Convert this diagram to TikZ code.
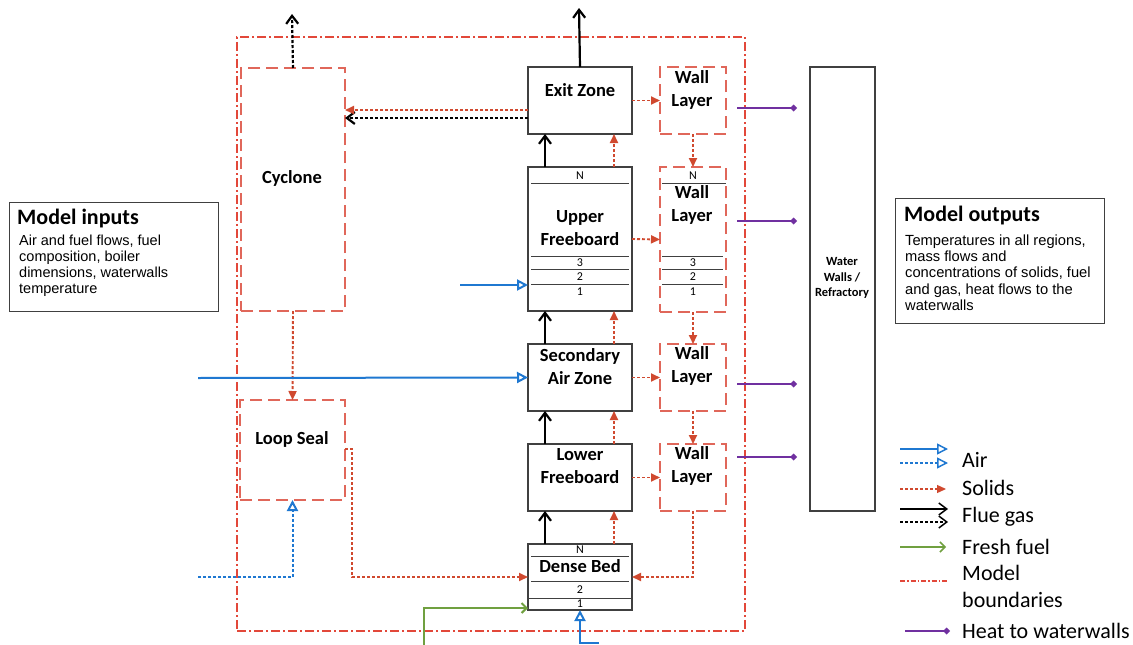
\documentclass[tikz,border=0pt]{standalone}
\usepackage{fontspec}
\setmainfont{Carlito}
\newfontfamily\arialf{Liberation Sans}
\usetikzlibrary{arrows.meta}
\definecolor{boxgray}{HTML}{404040}
\definecolor{dashred}{HTML}{E0675A}
\definecolor{boundred}{HTML}{E2483A}
\definecolor{sred}{HTML}{D0492F}
\definecolor{airblue}{HTML}{1F78D1}
\definecolor{fuelgreen}{HTML}{70A040}
\definecolor{heatpurple}{HTML}{7030A0}
\begin{document}
\begin{tikzpicture}[x=1pt,y=-1pt,
  zone/.style={draw=boxgray, line width=1.2pt, inner sep=0pt, outer sep=0pt, rectangle},
  dbox/.style={draw=dashred, line width=1.2pt, dash pattern=on 12pt off 6pt, inner sep=0pt, outer sep=0pt, rectangle},
  bound/.style={draw=boundred, line width=1.2pt, dash pattern=on 9pt off 3pt on 2pt off 3pt, inner sep=0pt, outer sep=0pt, rectangle},
  lbl/.style={font=\fontsize{18.5}{22.5}\selectfont\bfseries, align=center, inner sep=0pt},
  num/.style={font=\fontsize{12}{14}\selectfont, inner sep=0pt},
  sepline/.style={draw=boxgray, line width=1pt},
  solids/.style={draw=sred, line width=1.9pt, dash pattern=on 3pt off 2pt, -{Triangle[length=9pt,width=8pt]}},
  air/.style={draw=airblue, line width=2pt, -{Triangle[open,length=11pt,width=11pt]}},
  airdot/.style={air, dash pattern=on 3pt off 2pt},
  flue/.style={draw=black, line width=2.2pt, -{Straight Barb[length=8pt,width=12pt]}},
  fluedot/.style={flue, dash pattern=on 3pt off 2pt},
  fuel/.style={draw=fuelgreen, line width=2pt, -{Straight Barb[length=5pt,width=10pt]}},
  heat/.style={draw=heatpurple, line width=2.2pt, -{Diamond[length=7pt,width=7pt]}},
  legtext/.style={font=\fontsize{22}{27}\selectfont, anchor=west, inner sep=0pt, align=left},
  ]
\useasboundingbox (0,0) rectangle (1133,645);
\fill[white] (0,0) rectangle (1133,645);

% model boundary
\node[bound, minimum width=508pt, minimum height=594pt] (bd) at (491,334) {};

% dashed red boxes
\node[dbox, minimum width=104pt, minimum height=243pt] (cyc) at (293,189.5) {};
\node[dbox, minimum width=105pt, minimum height=100pt] (ls) at (292.5,450) {};
\node[dbox, minimum width=66pt, minimum height=67pt] (wl1) at (693,100.5) {};
\node[dbox, minimum width=66pt, minimum height=145pt] (wl2) at (693,239.5) {};
\node[dbox, minimum width=66pt, minimum height=67pt] (wl3) at (693,377.5) {};
\node[dbox, minimum width=66pt, minimum height=67pt] (wl4) at (693,477.5) {};

% zones
\node[zone, minimum width=104pt, minimum height=67pt] (ez) at (580,100.5) {};
\node[zone, minimum width=104pt, minimum height=144pt] (uf) at (580,239) {};
\node[zone, minimum width=104pt, minimum height=67pt] (saz) at (580,377.5) {};
\node[zone, minimum width=104pt, minimum height=67pt] (lf) at (580,477.5) {};
\node[zone, minimum width=104pt, minimum height=66pt] (db) at (580,577) {};
\node[zone, minimum width=65pt, minimum height=444pt] (ww) at (842.5,289) {};

% labels
\node[lbl] (cycl) at (292,178) {Cyclone};
\node[lbl] (lsl) at (292,439) {Loop Seal};
\node[lbl] (ezl) at (580,90) {Exit Zone};
\node[lbl] (ufl) at (580,228) {Upper\\Freeboard};
\node[lbl] (sazl) at (580,366.5) {Secondary\\Air Zone};
\node[lbl] (lfl) at (580,466) {Lower\\Freeboard};
\node[lbl] (dbl) at (580,566) {Dense Bed};
\node[lbl] (wl1l) at (692,90) {Wall\\Layer};
\node[lbl] (wl2l) at (692,205) {Wall\\Layer};
\node[lbl] (wl3l) at (692,366) {Wall\\Layer};
\node[lbl] (wl4l) at (692,466) {Wall\\Layer};
\node[font=\fontsize{12.5}{15.5}\selectfont\bfseries, align=center, inner sep=0pt] (wwl) at (842,278) {Water\\Walls /\\Refractory};

% upper freeboard layers
\draw[sepline] (531,183) -- (629,183);
\draw[sepline] (531,256) -- (629,256);
\draw[sepline] (531,269.5) -- (629,269.5);
\draw[sepline] (531,284) -- (629,284);
\node[num] (ufn) at (580,176) {N};
\node[num] (uf3) at (580,262.5) {3};
\node[num] (uf2) at (580,277) {2};
\node[num] (uf1) at (580,292) {1};
% wall layer 2 layers
\draw[sepline] (662,183) -- (726,183);
\draw[sepline] (662,256) -- (723,256);
\draw[sepline] (662,269.5) -- (723,269.5);
\draw[sepline] (662,284) -- (723,284);
\node[num] (wln) at (693,176) {N};
\node[num] (wl3n) at (693,262.5) {3};
\node[num] (wl2n) at (693,277) {2};
\node[num] (wl1n) at (693,292) {1};
% dense bed layers
\draw[sepline] (531,556) -- (629,556);
\draw[sepline] (531,581) -- (629,581);
\draw[sepline] (528,598) -- (633,598);
\node[num] (dbn) at (580,550) {N};
\node[num] (db2) at (580,589.5) {2};
\node[num] (db1) at (580,603.5) {1};

% lanes
\coordinate (gx) at (545,0);
\coordinate (sx) at (614,0);
\coordinate (ry) at (0,110);
\coordinate (ky) at (0,118);

% free ends
\coordinate (cyctop) at (292,14);
\coordinate (eztop) at (579,8);
\coordinate (a1) at (460,285);
\coordinate (a2) at (198,378);
\coordinate (a3) at (198,577);
\coordinate (a4) at (599,643);
\coordinate (f0) at (424,645);
\coordinate (lsx) at (352,449);

% flue gas
\draw[fluedot] (cyc.north) -- (cyctop);
\draw[flue] (ez.north) -- (eztop);
\draw[flue] (db.north -| gx) -- (lf.south -| gx);
\draw[flue] (lf.north -| gx) -- (saz.south -| gx);
\draw[flue] (saz.north -| gx) -- (uf.south -| gx);
\draw[flue] (uf.north -| gx) -- (ez.south -| gx);
\draw[fluedot] (ez.west |- ky) -- (cyc.east |- ky);

% solids
\draw[solids] (ez.west |- ry) -- (cyc.east |- ry);
\draw[solids] (cyc.south) -- (ls.north);
\draw[solids] (ls.east |- lsx) -- (lsx) |- (db.west);
\draw[solids] (db.north -| sx) -- (lf.south -| sx);
\draw[solids] (lf.north -| sx) -- (saz.south -| sx);
\draw[solids] (saz.north -| sx) -- (uf.south -| sx);
\draw[solids] (uf.north -| sx) -- (ez.south -| sx);
\draw[solids] (ez.east) -- (wl1.west);
\draw[solids] (uf.east) -- (wl2.west);
\draw[solids] (saz.east) -- (wl3.west);
\draw[solids] (lf.east) -- (wl4.west);
\draw[solids] (wl1.south) -- (wl2.north);
\draw[solids] (wl2.south) -- (wl3.north);
\draw[solids] (wl3.south) -- (wl4.north);
\draw[solids] (wl4.south) |- (db.east);

% air
\draw[air] (a2) -- (saz.west);
\draw[air] (a1) -- (uf.west |- a1);
\draw[airdot] (a3) -| (ls.south);
\draw[air] (a4) -| (db.south);

% fuel
\draw[fuel] (f0) |- ([yshift=2pt]db.south west);

% heat
\coordinate (h1s) at (737,108); \coordinate (h1e) at (797,108);
\coordinate (h2s) at (737,221); \coordinate (h2e) at (797,221);
\coordinate (h3s) at (737,384); \coordinate (h3e) at (797,384);
\coordinate (h4s) at (737,457); \coordinate (h4e) at (797,457);
\draw[heat] (h1s) -- (h1e);
\draw[heat] (h2s) -- (h2e);
\draw[heat] (h3s) -- (h3e);
\draw[heat] (h4s) -- (h4e);

% model inputs
\node[zone, line width=1pt, minimum width=209pt, minimum height=109pt] (inbox) at (113.5,256.5) {};
\node[anchor=west, inner sep=0pt, font=\fontsize{22}{24}\selectfont\bfseries] (intitle) at (17,219) {Model inputs};
\node[anchor=north west, inner sep=0pt, align=left, font=\arialf\fontsize{14.5}{16}\selectfont] (inbody) at (19,235) {Air and fuel flows, fuel\\composition, boiler\\dimensions, waterwalls\\temperature};

% model outputs
\node[zone, line width=1pt, minimum width=209pt, minimum height=125pt] (outbox) at (999.5,260.5) {};
\node[anchor=west, inner sep=0pt, font=\fontsize{22}{24}\selectfont\bfseries] (outtitle) at (904,216) {Model outputs};
\node[anchor=north west, inner sep=0pt, align=left, font=\arialf\fontsize{14.7}{16.3}\selectfont] (outbody) at (905,234.5) {Temperatures in all regions,\\mass flows and\\concentrations of solids, fuel\\and gas, heat flows to the\\waterwalls};

% legend
\coordinate (la1s) at (900,449); \coordinate (la1e) at (948,449);
\coordinate (la2s) at (900,463); \coordinate (la2e) at (948,463);
\coordinate (lss) at (900,489); \coordinate (lse) at (946,489);
\coordinate (lf1s) at (900,509); \coordinate (lf1e) at (948,509);
\coordinate (lf2s) at (900,522); \coordinate (lf2e) at (948,522);
\coordinate (lfus) at (900,547); \coordinate (lfue) at (946,547);
\coordinate (lbs) at (900,581); \coordinate (lbe) at (948,581);
\coordinate (lhs) at (905,631); \coordinate (lhe) at (950,631);
\draw[air, line width=1.5pt] (la1s) -- (la1e);
\draw[airdot, line width=1.5pt] (la2s) -- (la2e);
\draw[solids, line width=1.3pt] (lss) -- (lse);
\draw[flue, line width=1.5pt] (lf1s) -- (lf1e);
\draw[fluedot, line width=1.5pt] (lf2s) -- (lf2e);
\draw[fuel, line width=1.5pt] (lfus) -- (lfue);
\draw[draw=boundred, line width=1.2pt, dash pattern=on 5pt off 2pt on 1.5pt off 2pt] (lbs) -- (lbe);
\draw[heat, line width=1.8pt] (lhs) -- (lhe);
\node[legtext] (lt1) at (962,460) {Air};
\node[legtext] (lt2) at (962,488) {Solids};
\node[legtext] (lt3) at (962,517) {Flue gas};
\node[legtext] (lt4) at (962,547) {Fresh fuel};
\node[legtext] (lt5) at (962,586.5) {Model\\boundaries};
\node[legtext] (lt6) at (962,631) {Heat to waterwalls};
\end{tikzpicture}
\end{document}
